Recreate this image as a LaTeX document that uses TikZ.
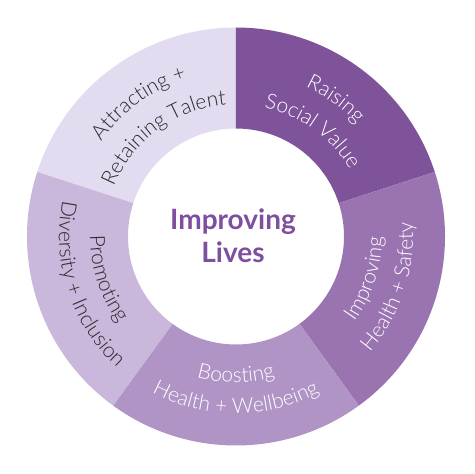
\documentclass[tikz,border=0pt]{standalone}
\usepackage{fontspec}
\setmainfont{Lato}
\newfontfamily\lightfont{Lato Light}
\usetikzlibrary{decorations.text}

\definecolor{raiseCol}{HTML}{7E5399}
\definecolor{safetyCol}{HTML}{9A73B1}
\definecolor{boostCol}{HTML}{AF94C5}
\definecolor{promoteCol}{HTML}{C9B7DC}
\definecolor{attractCol}{HTML}{E3DBEF}
\definecolor{centreCol}{HTML}{7E4F9E}
\definecolor{darkText}{HTML}{2B2B2B}

\newcommand{\ringFont}{\lightfont\fontsize{21}{24}\selectfont}

\begin{document}
\begin{tikzpicture}[
    x=1pt, y=1pt,
    ringLabel/.style={
        decorate,
        decoration={text along path, text align=center, text color=#1}
    },
    centreText/.style={
        font=\bfseries\fontsize{28}{33}\selectfont,
        text=centreCol,
        align=center
    }
]
    \useasboundingbox (-236,-237.5) rectangle (239,236.5);

    % --- 1. Ring segments ---
    \foreach \start/\col in {90/attractCol, 18/raiseCol, -54/safetyCol, -126/boostCol, 162/promoteCol} {
        \fill[\col] (\start:108pt) -- (\start:209pt)
            arc[start angle=\start, end angle=\start+72, radius=209pt]
            -- (\start+72:108pt)
            arc[start angle=\start+72, end angle=\start, radius=108pt] -- cycle;
    }

    % --- 2. Segment labels (upper half: clockwise) ---
    \path[ringLabel=white, decoration={text={|\ringFont|Raising}}]
        (104:165pt) arc[start angle=104, end angle=4, radius=165pt];
    \path[ringLabel=white, decoration={text={|\ringFont|Social Value}}]
        (104:132pt) arc[start angle=104, end angle=4, radius=132pt];

    \path[ringLabel=darkText, decoration={text={|\ringFont|Attracting +}}]
        (176:165pt) arc[start angle=176, end angle=76, radius=165pt];
    \path[ringLabel=darkText, decoration={text={|\ringFont|Retaining Talent}}]
        (176:132pt) arc[start angle=176, end angle=76, radius=132pt];

    % --- 3. Segment labels (lower half: counterclockwise) ---
    \path[ringLabel=white, decoration={text={|\ringFont|Improving}}]
        (-68:146pt) arc[start angle=-68, end angle=32, radius=146pt];
    \path[ringLabel=white, decoration={text={|\ringFont|Health + Safety}}]
        (-68:177pt) arc[start angle=-68, end angle=32, radius=177pt];

    \path[ringLabel=white, decoration={text={|\ringFont|Boosting}}]
        (-140:146pt) arc[start angle=-140, end angle=-40, radius=146pt];
    \path[ringLabel=white, decoration={text={|\ringFont|Health + Wellbeing}}]
        (-140:177pt) arc[start angle=-140, end angle=-40, radius=177pt];

    \path[ringLabel=darkText, decoration={text={|\ringFont|Promoting}}]
        (148:146pt) arc[start angle=148, end angle=248, radius=146pt];
    \path[ringLabel=darkText, decoration={text={|\ringFont|Diversity + Inclusion}}]
        (148:177pt) arc[start angle=148, end angle=248, radius=177pt];

    % --- 4. Centre ---
    \node[centreText] (centre) at (-3,1) {Improving\\Lives};
\end{tikzpicture}
\end{document}
